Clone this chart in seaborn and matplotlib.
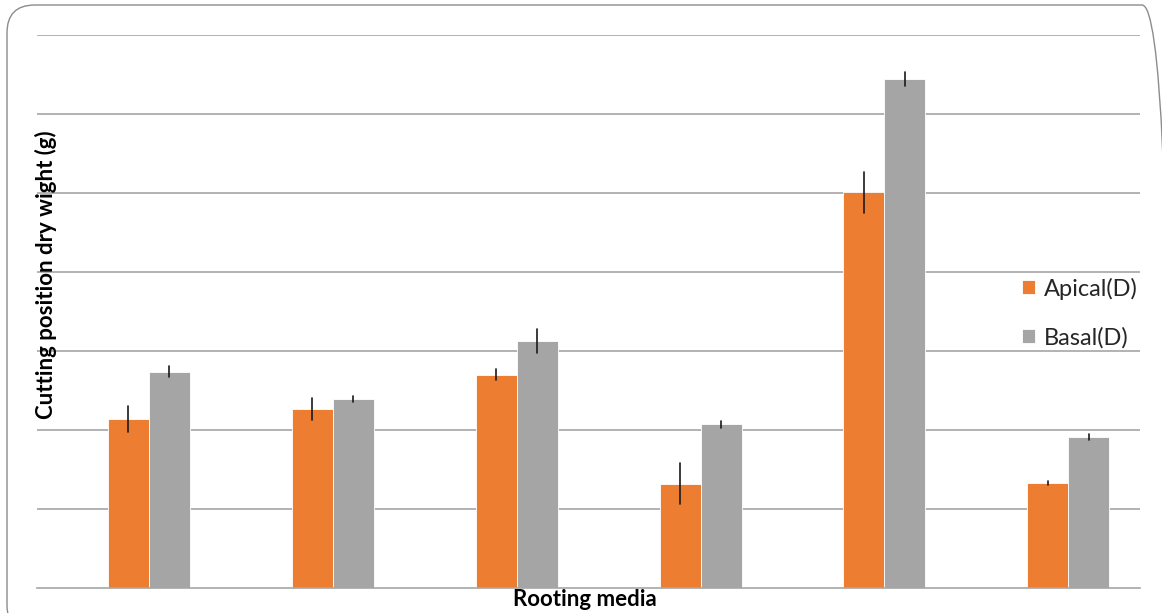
import numpy as np
import pandas as pd
import matplotlib
matplotlib.use("Agg")
import matplotlib.pyplot as plt
from matplotlib.patches import FancyBboxPatch
import seaborn as sns

# Rooting media (six treatments) and dry weight of cuttings by position
media = ["M1", "M2", "M3", "M4", "M5", "M6"]
apical = [2.14, 2.27, 2.70, 1.32, 5.01, 1.33]
apical_err = [0.17, 0.14, 0.07, 0.26, 0.26, 0.02]
basal = [2.74, 2.39, 3.13, 2.07, 6.44, 1.91]
basal_err = [0.07, 0.04, 0.15, 0.05, 0.09, 0.04]
positions = ["Apical(D)", "Basal(D)"]

# Long table: each bar gets its lower and upper bound so that the mean is
# the bar height and the full interval is the error bar
rows = []
for name, vals, errs in ((positions[0], apical, apical_err),
                         (positions[1], basal, basal_err)):
    for m, v, e in zip(media, vals, errs):
        rows.append({"media": m, "position": name, "weight": v - e})
        rows.append({"media": m, "position": name, "weight": v + e})
df = pd.DataFrame(rows)

sns.set_theme(style="white")
plt.rcParams["font.family"] = ["Lato", "DejaVu Sans"]

W, H = 1162, 613
fig = plt.figure(figsize=(W / 100, H / 100), dpi=100)
ax = fig.add_axes([37 / W, 25 / H, (1140 - 37) / W, (588 - 35) / H])

sns.barplot(
    data=df, x="media", y="weight", hue="position",
    palette=["#ED7D31", "#A5A5A5"], saturation=1, estimator="mean",
    errorbar=("pi", 100), width=0.446, gap=0,
    err_kws={"color": "#1a1a1a", "linewidth": 1.2},
    edgecolor="white", linewidth=0.6, ax=ax,
)

ax.set_ylim(0, 7)
ax.set_xlim(-0.609, 5.39)
ax.set_yticks(np.arange(1, 8))
ax.yaxis.grid(True, color="#a6a6a6", linewidth=1.2)
ax.set_axisbelow(True)
ax.tick_params(left=False, bottom=False, labelleft=False, labelbottom=False)
for side in ("top", "left", "right"):
    ax.spines[side].set_visible(False)
ax.spines["bottom"].set_color("#a6a6a6")
ax.spines["bottom"].set_linewidth(1.2)

ax.set_xlabel("")
ax.set_ylabel("")
fig.text(585 / W, 1 - 600 / H, "Rooting media", ha="center", va="center",
         fontsize=16, fontweight="bold", color="black")
fig.text(46 / W, 1 - 275 / H, "Cutting position dry wight (g)", ha="center",
         va="center", rotation=90, fontsize=16, fontweight="bold",
         color="black")

handles, labels = ax.get_legend_handles_labels()
ax.legend(handles, labels, loc="center left",
          bbox_to_anchor=(1001 / W, 1 - 313 / H),
          bbox_transform=fig.transFigure, frameon=False,
          fontsize=17, handlelength=0.55, handleheight=0.55,
          handletextpad=0.38, labelspacing=1.15)

# Rounded chart border
border = FancyBboxPatch((7 / W, -20 / H), (1170 - 7) / W, (608 + 20) / H,
                        boxstyle="round,pad=0,rounding_size=0.024",
                        transform=fig.transFigure, fill=False,
                        edgecolor="#8c8c8c", linewidth=1.0,
                        mutation_aspect=W / H)
fig.patches.append(border)

fig.savefig("out.png", dpi=100, facecolor="white")
